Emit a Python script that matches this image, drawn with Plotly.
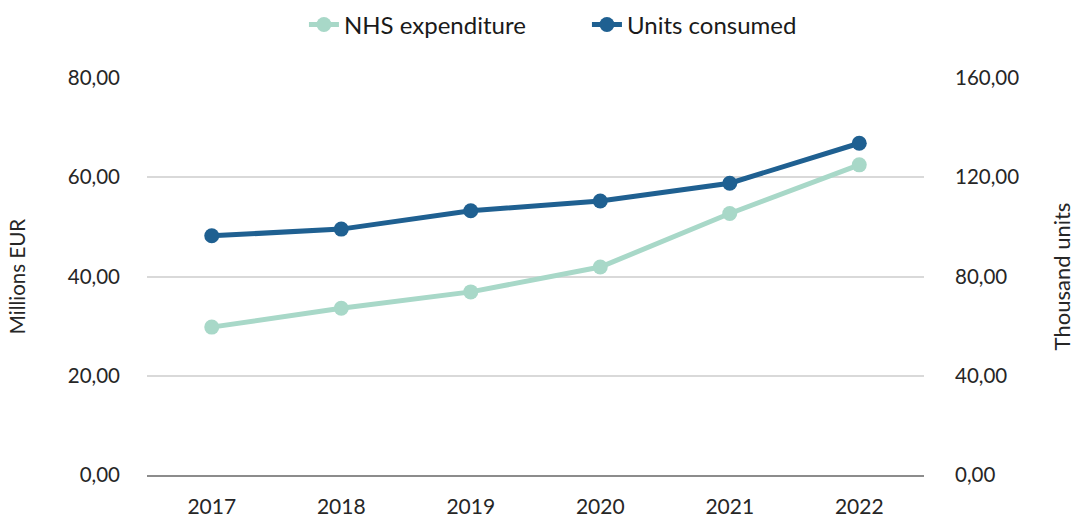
import plotly.graph_objects as go

years = ["2017", "2018", "2019", "2020", "2021", "2022"]
nhs_expenditure = [29.8, 33.6, 36.9, 41.9, 52.7, 62.5]      # Millions EUR
units_consumed = [96.4, 99.1, 106.5, 110.4, 117.6, 133.7]   # Thousand units

FONT = "Lato"
TEAL = "#A8D8C8"
BLUE = "#1F6091"

fig = go.Figure()
fig.add_trace(go.Scatter(
    x=years, y=nhs_expenditure, name="NHS expenditure", mode="lines+markers",
    line=dict(color=TEAL, width=5), marker=dict(color=TEAL, size=15), yaxis="y"))
fig.add_trace(go.Scatter(
    x=years, y=units_consumed, name="Units consumed", mode="lines+markers",
    line=dict(color=BLUE, width=5), marker=dict(color=BLUE, size=15), yaxis="y2"))

fig.update_layout(
    width=1075, height=520,
    margin=dict(l=147, r=151, t=78, b=45, autoexpand=False),
    paper_bgcolor="white", plot_bgcolor="white",
    separators=",.",
    font=dict(family=FONT, size=20, color="#262626"),
    showlegend=True,
    legend=dict(orientation="h", xref="container", x=0.546, xanchor="center",
                yref="container", y=0.952, yanchor="middle",
                font=dict(size=24, color="#1a1a1a"), traceorder="normal",
                entrywidth=238, entrywidthmode="pixels"),
    xaxis=dict(range=[-0.5, 5.5], showgrid=False, showline=True, linecolor="#8c8c8c",
               linewidth=1.5, ticks="", ticklabelstandoff=12, tickfont=dict(size=21),
               automargin=False),
    yaxis=dict(range=[0, 80], dtick=20, tickformat=".2f", showgrid=True,
               gridcolor="#d9d9d9", gridwidth=1.5, zeroline=False, showline=False,
               ticks="", ticklabelstandoff=26, tickfont=dict(size=20.5), automargin=False,
               title=dict(text="Millions EUR", standoff=36, font=dict(size=20.5))),
    yaxis2=dict(range=[0, 160], dtick=40, tickformat=".2f", overlaying="y", side="right",
                showgrid=False, zeroline=False, showline=False, ticks="",
                ticklabelstandoff=30, tickfont=dict(size=20.5), automargin=False,
                title=dict(text="Thousand units", standoff=38, font=dict(size=22))),
)

fig.write_html("out.html")
